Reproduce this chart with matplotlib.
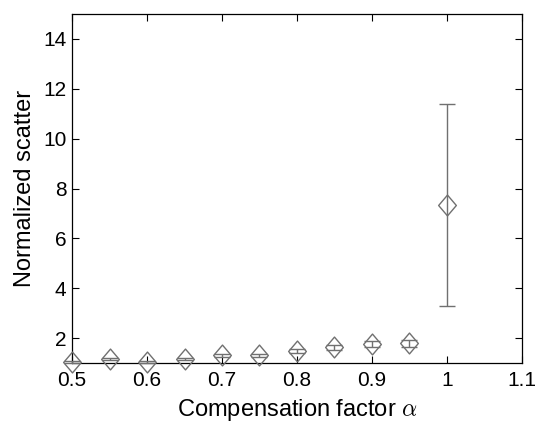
import matplotlib.pyplot as plt
from matplotlib.path import Path

plt.rcParams['font.family'] = ['Liberation Sans', 'DejaVu Sans']
plt.rcParams['mathtext.fontset'] = 'cm'

# compensation factor and normalized scatter
alpha = [0.5, 0.55, 0.6, 0.65, 0.7, 0.75, 0.8, 0.85, 0.9, 0.95, 1.0]
scatter = [1.04, 1.16, 1.04, 1.16, 1.32, 1.32, 1.48, 1.63, 1.76, 1.79, 7.35]
err = [0.03, 0.04, 0.06, 0.04, 0.06, 0.06, 0.08, 0.10, 0.12, 0.15, 4.05]

# MATLAB-style diamond, a bit taller than wide
diamond = Path([(0, 1), (0.85, 0), (0, -1), (-0.85, 0), (0, 1)],
               [Path.MOVETO, Path.LINETO, Path.LINETO, Path.LINETO, Path.CLOSEPOLY])

fig = plt.figure(figsize=(5.36, 4.24), dpi=100)
ax = fig.add_axes([72/536, 1 - 363/424, 450/536, 349/424])

gray = '#707070'
ax.errorbar(alpha, scatter, yerr=err, fmt='none', ecolor=gray,
            elinewidth=1.0, capsize=6, capthick=1.0, clip_on=False, zorder=3)
ax.plot(alpha, scatter, ls='none', marker=diamond, ms=15, mfc='none', mec=gray,
        mew=1.0, clip_on=False, zorder=4)

ax.set_xlim(0.5, 1.1)
ax.set_ylim(1, 15)
ax.set_xticks([0.5, 0.6, 0.7, 0.8, 0.9, 1.0, 1.1])
ax.set_xticklabels(['0.5', '0.6', '0.7', '0.8', '0.9', '1', '1.1'])
ax.set_yticks([2, 4, 6, 8, 10, 12, 14])
ax.tick_params(direction='in', top=True, right=True, labelsize=15, length=5,
               width=0.8, pad=4)
ax.tick_params(axis='x', pad=6)
for s in ax.spines.values():
    s.set_linewidth(0.9)

ax.set_xlabel(r'Compensation factor $\alpha$', fontsize=17, labelpad=5)
ax.set_ylabel('Normalized scatter', fontsize=17, labelpad=5)

fig.savefig('out.png', dpi=100)
